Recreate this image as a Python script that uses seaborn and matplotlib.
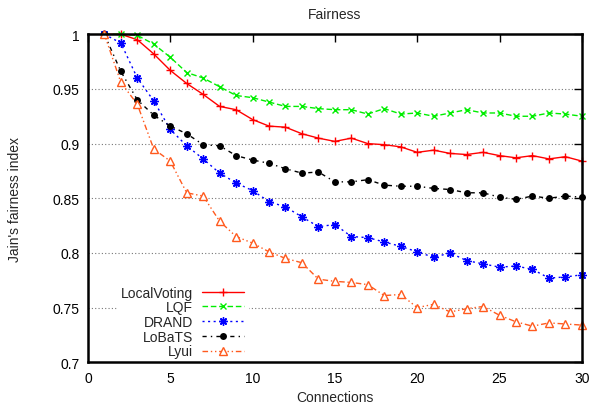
import numpy as np
import pandas as pd
import seaborn as sns
import matplotlib
matplotlib.use('Agg')
import matplotlib.pyplot as plt

connections = list(range(1, 31))

local_voting = [1.0, 1.0, 0.995, 0.982, 0.967, 0.955, 0.945, 0.934, 0.931, 0.922,
                0.916, 0.915, 0.909, 0.905, 0.902, 0.905, 0.900, 0.899, 0.897, 0.892,
                0.894, 0.891, 0.890, 0.892, 0.889, 0.887, 0.889, 0.886, 0.888, 0.884]
lqf = [1.0, 1.0, 0.999, 0.991, 0.979, 0.965, 0.960, 0.952, 0.944, 0.942,
       0.938, 0.934, 0.934, 0.932, 0.931, 0.931, 0.927, 0.932, 0.927, 0.928,
       0.925, 0.928, 0.931, 0.928, 0.928, 0.925, 0.925, 0.928, 0.927, 0.925]
drand = [1.0, 0.992, 0.960, 0.939, 0.913, 0.898, 0.886, 0.873, 0.864, 0.857,
         0.847, 0.842, 0.833, 0.824, 0.826, 0.815, 0.814, 0.810, 0.806, 0.801,
         0.796, 0.800, 0.793, 0.790, 0.787, 0.788, 0.785, 0.777, 0.778, 0.780]
lobats = [1.0, 0.966, 0.940, 0.926, 0.916, 0.909, 0.899, 0.898, 0.889, 0.885,
          0.882, 0.877, 0.873, 0.874, 0.865, 0.865, 0.867, 0.862, 0.861, 0.861,
          0.859, 0.858, 0.855, 0.855, 0.851, 0.849, 0.852, 0.850, 0.852, 0.851]
lyui = [1.0, 0.956, 0.936, 0.895, 0.884, 0.855, 0.852, 0.829, 0.815, 0.809,
        0.801, 0.795, 0.791, 0.776, 0.774, 0.773, 0.771, 0.761, 0.762, 0.750,
        0.753, 0.746, 0.749, 0.751, 0.743, 0.737, 0.733, 0.736, 0.735, 0.734]

names = ['LocalVoting', 'LQF', 'DRAND', 'LoBaTS', 'Lyui']
series = [local_voting, lqf, drand, lobats, lyui]

# gnuplot-ish styles
styles = {
    'LocalVoting': dict(color='#ff0000', linestyle='-', marker='+', ms=6, mew=1.0, mfc='#ff0000'),
    'LQF': dict(color='#00ee00', linestyle=(0, (4, 2)), marker='x', ms=5, mew=1.0, mfc='#00ee00'),
    'DRAND': dict(color='#0000ff', linestyle=(0, (1.5, 2.5)), marker=(8, 2, 0), ms=6, mew=1.0, mfc='#0000ff'),
    'LoBaTS': dict(color='black', linestyle=(0, (3, 3, 1, 3)), marker='o', ms=5, mew=0, mfc='black'),
    'Lyui': dict(color='#ff5a1e', linestyle=(0, (4, 2, 1, 2, 1, 2)), marker='^', ms=5.5, mew=1.0, mfc='white'),
}

sns.set_theme(style='white')
plt.rcParams['font.family'] = ['Liberation Sans', 'DejaVu Sans']

fig = plt.figure(figsize=(5.98, 4.10), dpi=100)
ax = fig.add_axes([0.147, 0.114, 0.826, 0.8])

for name, vals in zip(names, series):
    st = styles[name]
    sns.lineplot(x=connections, y=vals, ax=ax, label=name, color=st['color'],
                 linestyle=st['linestyle'], linewidth=1.0, marker=st['marker'],
                 markersize=st['ms'], markeredgewidth=st['mew'],
                 markerfacecolor=st['mfc'], markeredgecolor=st['color'],
                 clip_on=False, zorder=3)

ax.set_xlim(0, 30)
ax.set_ylim(0.7, 1.0)
ax.set_xticks([0, 5, 10, 15, 20, 25, 30])
yt = [0.7, 0.75, 0.8, 0.85, 0.9, 0.95, 1.0]
ax.set_yticks(yt)
ax.set_yticklabels(['0.7', '0.75', '0.8', '0.85', '0.9', '0.95', '1'])
ax.tick_params(direction='in', length=6, width=1.0, top=True, right=True,
               labelsize=10, colors='black', pad=6)
for sp in ax.spines.values():
    sp.set_linewidth(1.8)
    sp.set_color('black')
    sp.set_zorder(6)
ax.xaxis.set_zorder(6)
ax.yaxis.set_zorder(6)
for y in yt[1:-1]:
    ax.axhline(y, color='#777777', linestyle=(0, (1, 2)), linewidth=0.8, zorder=0)

ax.set_title('Fairness', fontsize=10, pad=12)
ax.set_xlabel('Connections', fontsize=10, labelpad=4)
ax.set_ylabel("Jain's fairness index", fontsize=10, labelpad=22)

# gnuplot style key: text right aligned, sample on the right
leg = ax.legend(loc='lower left', bbox_to_anchor=(0.045, -0.02), markerfirst=False,
                frameon=True, fancybox=False, edgecolor='white', facecolor='white',
                framealpha=1, fontsize=10, handlelength=3.0, handletextpad=0.7,
                labelspacing=0.05, borderpad=0.25)
leg.set_zorder(5)
fig.canvas.draw()
renderer = fig.canvas.get_renderer()
boxes = [t.get_window_extent(renderer) for t in leg.get_texts()]
right = min(b.x0 for b in boxes) + max(b.width for b in boxes)
for t, b in zip(leg.get_texts(), boxes):
    fig.text(right / fig.dpi / fig.get_figwidth(),
             (b.y0 + b.y1) / 2 / fig.dpi / fig.get_figheight(),
             t.get_text(), ha='right', va='center', fontsize=10, zorder=6)
    t.set_color('none')

fig.savefig('out.png', dpi=100)
